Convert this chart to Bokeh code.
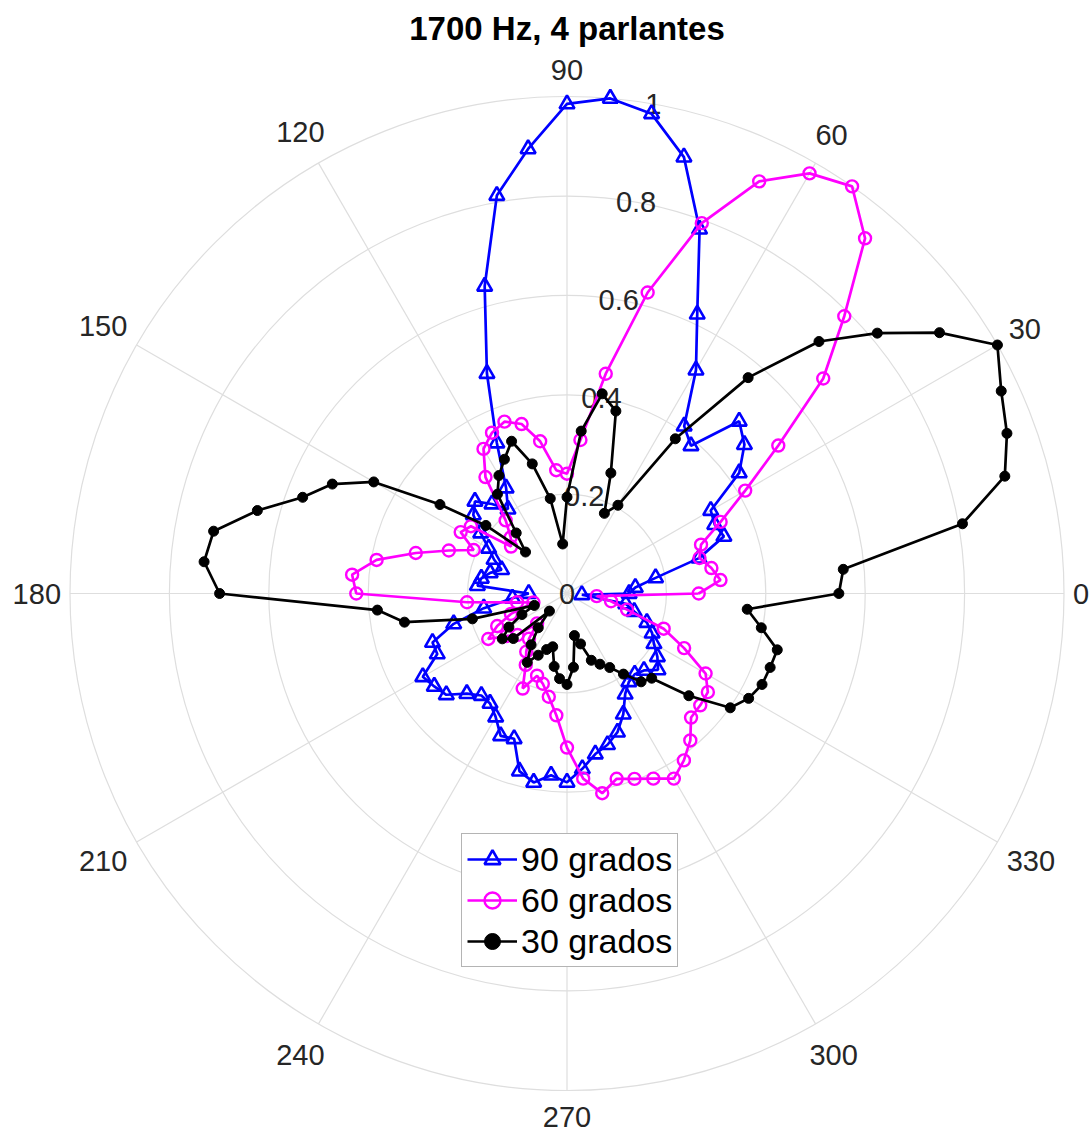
import numpy as np
from bokeh.plotting import figure
from bokeh.models import Legend, LegendItem
from bokeh.embed import file_html
from bokeh.resources import INLINE
from bokeh.core.properties import value

# ---------------- data ----------------
title_text = "1700 Hz, 4 parlantes"
theta_deg = list(range(0, 360, 5))

series_names = ["90 grados", "60 grados", "30 grados"]

r_90 = [0.125, 0.138, 0.181, 0.275, 0.336, 0.328, 0.334, 0.423, 0.466, 0.490,
        0.388, 0.411, 0.519, 0.620, 0.780, 0.909, 0.980, 1.000, 0.985, 0.898,
        0.813, 0.640, 0.471, 0.334, 0.245, 0.207, 0.235, 0.262, 0.246, 0.212,
        0.182, 0.162, 0.140, 0.160, 0.175, 0.181, 0.077, 0.110, 0.170, 0.236,
        0.288, 0.288, 0.335, 0.326, 0.317, 0.285, 0.268, 0.270, 0.287, 0.316,
        0.311, 0.370, 0.386, 0.367, 0.380, 0.354, 0.328, 0.315, 0.297, 0.268,
        0.234, 0.217, 0.212, 0.219, 0.239, 0.222, 0.202, 0.189, 0.171, 0.140,
        0.120, 0.030]

r_60 = [0.265, 0.310, 0.295, 0.276, 0.287, 0.341, 0.414, 0.519, 0.673, 0.789,
        0.933, 1.000, 0.976, 0.915, 0.793, 0.627, 0.449, 0.310, 0.241, 0.249,
        0.311, 0.353, 0.368, 0.357, 0.336, 0.286, 0.192, 0.160, 0.147, 0.236,
        0.247, 0.207, 0.253, 0.315, 0.389, 0.434, 0.424, 0.202, 0.102, 0.070,
        0.120, 0.155, 0.183, 0.149, 0.130, 0.085, 0.119, 0.143, 0.166, 0.211,
        0.176, 0.188, 0.211, 0.246, 0.310, 0.374, 0.408, 0.386, 0.397, 0.411,
        0.430, 0.410, 0.386, 0.353, 0.350, 0.346, 0.322, 0.260, 0.207, 0.125,
        0.090, 0.060]

r_30 = [0.547, 0.558, 0.808, 0.912, 0.942, 0.964, 1.000, 0.915, 0.815, 0.717,
        0.567, 0.380, 0.205, 0.178, 0.258, 0.380, 0.408, 0.328, 0.194, 0.100,
        0.194, 0.270, 0.326, 0.298, 0.274, 0.244, 0.159, 0.118, 0.213, 0.312,
        0.449, 0.521, 0.566, 0.645, 0.722, 0.733, 0.699, 0.383, 0.332, 0.197,
        0.070, 0.100, 0.135, 0.159, 0.141, 0.050, 0.090, 0.126, 0.160, 0.137,
        0.120, 0.111, 0.149, 0.172, 0.183, 0.149, 0.086, 0.105, 0.143, 0.157,
        0.172, 0.198, 0.232, 0.241, 0.320, 0.401, 0.422, 0.433, 0.435, 0.438,
        0.397, 0.364]

r_ticks = [0, 0.2, 0.4, 0.6, 0.8, 1.0]
r_tick_labels = ["0", "0.2", "0.4", "0.6", "0.8", "1"]
theta_ticks = list(range(0, 360, 30))
theta_tick_labels = [str(t) for t in theta_ticks]

# ---------------- layout ----------------
W, H = 1089, 1135
CX, CY, RPX = 566.5, 593.0, 497.0
FONT = "Liberation Sans"
GRID = "#dedede"
TXT = "#262626"

p = figure(width=W, height=H,
           x_range=(-CX / RPX, (W - CX) / RPX),
           y_range=(-(H - CY) / RPX, CY / RPX),
           x_axis_type=None, y_axis_type=None,
           output_backend="svg", toolbar_location=None,
           min_border=0, outline_line_color=None,
           background_fill_color="white", border_fill_color="white")
p.grid.visible = False

# grid circles
p.circle(x=[0] * 5, y=[0] * 5, radius=r_ticks[1:], fill_color=None,
         line_color=GRID, line_width=1.2)
# spokes
sp = np.deg2rad(theta_ticks[:6])
p.segment(x0=-np.cos(sp), y0=-np.sin(sp), x1=np.cos(sp), y1=np.sin(sp),
          line_color=GRID, line_width=1.2)

# angle labels
fs = 29
tt = np.deg2rad(theta_ticks)
lab_x, lab_y = [], []
for a, lab in zip(tt, theta_tick_labels):
    w = 0.556 * fs * len(lab)
    h = 0.72 * fs
    off = (506 + 7 * abs(np.sin(a)) + abs(np.cos(a)) * w / 2
           + abs(np.sin(a)) * h / 2) / RPX
    lab_x.append(off * np.cos(a))
    lab_y.append(off * np.sin(a))
p.text(x=lab_x, y=lab_y, text=theta_tick_labels, text_align="center",
       text_baseline="middle", text_font=value(FONT),
       text_font_size=f"{fs}px", text_color=TXT)

# radial labels along 80 degrees
ra = np.deg2rad(80)
p.text(x=[r * np.cos(ra) for r in r_ticks], y=[r * np.sin(ra) for r in r_ticks],
       text=r_tick_labels, text_align="center", text_baseline="middle",
       text_font=value(FONT), text_font_size=f"{fs}px", text_color=TXT)

# title
p.text(x=[0], y=[(CY - 28) / RPX], text=[title_text], text_align="center",
       text_baseline="middle", text_font=value(FONT), text_font_size="33px",
       text_font_style="bold", text_color="black")

# series
th = np.deg2rad(theta_deg)
styles = [
    dict(color="#0000ff", marker="triangle", size=15, fill=None, lw=2.6),
    dict(color="#ff00ff", marker="circle", size=12, fill=None, lw=2.4),
    dict(color="#000000", marker="circle", size=10, fill="#000000", lw=1.0),
]
items = []
for name, rr, st in zip(series_names, [r_90, r_60, r_30], styles):
    rr = np.array(rr)
    x = rr * np.cos(th)
    y = rr * np.sin(th)
    xl = np.append(x, x[0])
    yl = np.append(y, y[0])
    lr = p.line(xl, yl, line_color=st["color"], line_width=2.7)
    sr = p.scatter(x, y, marker=st["marker"], size=st["size"],
                   line_color=st["color"], line_width=st["lw"],
                   fill_color=st["fill"])
    items.append(LegendItem(label=name, renderers=[lr, sr]))

legend = Legend(items=items, location=(461, 168),
                label_text_font=FONT, label_text_font_size="34px",
                label_text_color="black",
                glyph_width=50, glyph_height=40, label_height=40,
                spacing=1, padding=5, label_standoff=4, margin=0,
                border_line_color="#6a6a6a", border_line_width=1.2,
                background_fill_color="white", background_fill_alpha=1.0)
p.add_layout(legend)

open("out.html", "w").write(file_html(p, INLINE))
